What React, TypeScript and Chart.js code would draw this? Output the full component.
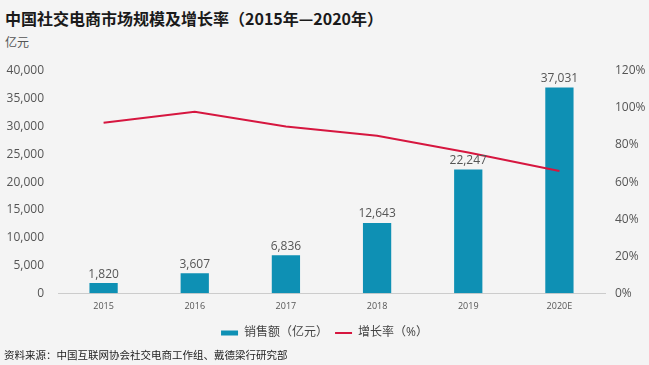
import React, { useEffect, useRef } from "react";
import { Chart, registerables } from "chart.js";

Chart.register(...registerables);

const categories = ["2015", "2016", "2017", "2018", "2019", "2020E"];
const salesValues = [1820, 3607, 6836, 12643, 22247, 37031];
const growthValues = [92, 98, 90, 85, 76, 66];
const leftTicks = [0, 5000, 10000, 15000, 20000, 25000, 30000, 35000, 40000];
const rightTicks = [0, 20, 40, 60, 80, 100, 120];

const FONT = "'Open Sans', 'Noto Sans CJK SC', sans-serif";
const BAR = "#0e90b4";
const LINE = "#d6163f";

const valueLabels = {
  id: "valueLabels",
  afterDatasetsDraw(chart: any) {
    const { ctx } = chart;
    const meta = chart.getDatasetMeta(0);
    ctx.save();
    ctx.font = `12px ${FONT}`;
    ctx.fillStyle = "#555";
    ctx.textAlign = "center";
    ctx.textBaseline = "bottom";
    meta.data.forEach((el: any, i: number) => {
      ctx.fillText(salesValues[i].toLocaleString("en-US"), el.x, el.y - 3);
    });
    ctx.restore();
  },
};

export default function App() {
  const ref = useRef<HTMLCanvasElement | null>(null);
  useEffect(() => {
    document.body.style.margin = "0";
    const chart = new Chart(ref.current!, {
      type: "bar",
      data: {
        labels: categories,
        datasets: [
          {
            type: "bar",
            label: "销售额（亿元）",
            data: salesValues,
            backgroundColor: BAR,
            borderWidth: 0,
            yAxisID: "y",
            barPercentage: 0.62,
            categoryPercentage: 0.5,
            order: 2,
          },
          {
            type: "line",
            label: "增长率（%）",
            data: growthValues,
            borderColor: LINE,
            backgroundColor: LINE,
            borderWidth: 2,
            pointRadius: 0,
            tension: 0,
            yAxisID: "y1",
            order: 1,
          } as any,
        ],
      },
      options: {
        animation: false,
        responsive: false,
        layout: { padding: { top: 71, left: 0, right: 0, bottom: 16 } },
        plugins: {
          legend: {
            position: "bottom",
            labels: {
              usePointStyle: true,
              pointStyleWidth: 17,
              boxHeight: 5,
              padding: 7,
              color: "#444",
              font: { family: FONT, size: 12 },
              generateLabels(chart: any) {
                return [
                  {
                    text: "销售额（亿元）",
                    fillStyle: BAR,
                    strokeStyle: BAR,
                    lineWidth: 0,
                    pointStyle: "rect",
                    datasetIndex: 0,
                    fontColor: "#444",
                  },
                  {
                    text: "增长率（%）",
                    fillStyle: LINE,
                    strokeStyle: LINE,
                    lineWidth: 2,
                    pointStyle: "line",
                    datasetIndex: 1,
                    fontColor: "#444",
                  },
                ];
              },
            },
          },
          tooltip: { enabled: false },
        },
        scales: {
          x: {
            grid: { display: false, drawTicks: false },
            border: { display: true, color: "#cccccc", width: 1 },
            ticks: { color: "#555", font: { family: FONT, size: 9 }, padding: 8 },
          },
          y: {
            position: "left",
            min: 0,
            max: 40000,
            afterBuildTicks(scale: any) {
              scale.ticks = leftTicks.map((v) => ({ value: v }));
            },
            afterFit(scale: any) {
              scale.width = 58;
            },
            grid: { display: false, drawTicks: false },
            border: { display: false },
            ticks: {
              color: "#555",
              font: { family: FONT, size: 12 },
              padding: 14,
              callback: (v: any) => Number(v).toLocaleString("en-US"),
            },
          },
          y1: {
            position: "right",
            min: 0,
            max: 120,
            afterBuildTicks(scale: any) {
              scale.ticks = rightTicks.map((v) => ({ value: v }));
            },
            afterFit(scale: any) {
              scale.width = 44;
            },
            grid: { display: false, drawTicks: false },
            border: { display: false },
            ticks: {
              color: "#555",
              font: { family: FONT, size: 12 },
              padding: 10,
              callback: (v: any) => `${v}%`,
            },
          },
        },
      },
      plugins: [valueLabels],
    });
    return () => chart.destroy();
  }, []);

  return (
    <div
      style={{
        position: "relative",
        width: 649,
        height: 365,
        background: "#f4f4f4",
        fontFamily: FONT,
        overflow: "hidden",
      }}
    >
      <div
        style={{
          position: "absolute",
          left: 5,
          top: 6,
          fontSize: 16,
          fontWeight: "bold",
          color: "#1a1a1a",
          fontFamily: "'Noto Sans CJK SC', sans-serif",
          whiteSpace: "nowrap",
        }}
      >
        中国社交电商市场规模及增长率（2015年—2020年）
      </div>
      <div
        style={{
          position: "absolute",
          left: 5,
          top: 33,
          fontSize: 12,
          color: "#555",
          fontFamily: "'Noto Sans CJK SC', sans-serif",
        }}
      >
        亿元
      </div>
      <canvas
        ref={ref}
        width={649}
        height={365}
        style={{ position: "absolute", left: 0, top: 0, width: 649, height: 365 }}
      />
      <div
        style={{
          position: "absolute",
          left: 4,
          top: 347,
          fontSize: 10.5,
          color: "#222",
          fontFamily: "'Noto Sans CJK SC', sans-serif",
          whiteSpace: "nowrap",
        }}
      >
        资料来源：中国互联网协会社交电商工作组、戴德梁行研究部
      </div>
    </div>
  );
}
